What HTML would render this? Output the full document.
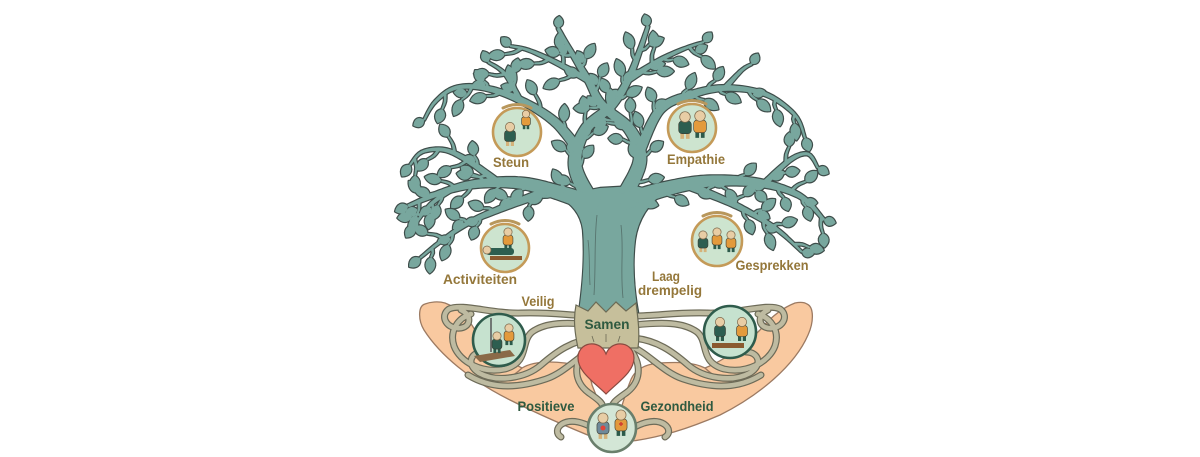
<!DOCTYPE html>
<html><head><meta charset="utf-8">
<style>html,body{margin:0;padding:0;background:#fff;}svg{display:block}</style>
</head><body>
<svg id="s" width="1200" height="457" viewBox="0 0 1200 457" xmlns="http://www.w3.org/2000/svg">
<rect width="1200" height="457" fill="#fff"/>
<!-- hands -->
<g fill="#f9c9a0" stroke="#9c7a62" stroke-width="1.3" stroke-linejoin="round">
<path d="M425,304 C418,306 418,320 424,330 C440,355 470,380 510,400 C540,415 570,428 600,440 L606,420 C600,405 596,395 592,385 C590,372 580,365 565,363 C548,361 532,362 522,368 C505,360 488,345 475,330 C468,318 458,308 445,303 C438,301 430,302 425,304 Z"/>
<path d="M807,304 C814,307 814,322 808,335 C795,365 760,395 720,415 C690,428 660,438 625,442 L618,420 C622,405 626,392 630,382 C634,370 645,364 660,363 C678,362 693,362 705,368 C725,360 745,345 760,330 C770,318 782,308 795,303 C800,302 804,302 807,304 Z"/>
<path fill="none" d="M522,368 C515,375 505,380 495,382"/>
<path fill="none" d="M705,368 C712,375 722,380 732,382"/>
</g>
<!-- roots -->
<g id="ro" fill="none" stroke="#6d6b58" stroke-width="7" stroke-linecap="round"></g>
<g id="rf" fill="none" stroke="#bebba1" stroke-width="4.6" stroke-linecap="round"></g>
<!-- tree -->
<g id="to" fill="#3e4d4a" stroke="#3e4d4a" stroke-width="2.4" stroke-linejoin="round"></g>
<g id="tf" fill="#78a79e"></g>
<g stroke="#4a5f5b" stroke-width="0.9" fill="none" opacity="0.7">
<path d="M597,215 C594,240 596,265 594,295"/>
<path d="M621,225 C624,250 620,270 623,298"/>
<path d="M588,240 C590,255 589,270 590,285"/>
</g>
<!-- root base -->
<path d="M576,305 L588,311 L596,302 L606,312 L616,302 L626,311 L636,303 C638,318 640,334 638,348 L578,348 C575,334 573,320 576,305 Z" fill="#c6bf9b" stroke="#6b6a55" stroke-width="1.2"/>
<g stroke="#6b6a55" stroke-width="0.8" fill="none"><path d="M592,336 l2,6 M606,334 l0,8 M620,336 l-2,6"/></g>
<!-- heart -->
<path d="M606,394 C594,382 578,372 578,358 C578,348 586,343 594,344 C600,345 604,349 606,354 C608,349 612,345 618,344 C627,343 634,349 634,358 C634,372 618,382 606,394 Z" fill="#ef6f64" stroke="#8a4a40" stroke-width="1.2"/>
<!-- medallions -->
<g fill="#cde4cf" stroke="#c49a58" stroke-width="2.6">
<circle cx="517" cy="132" r="24"/>
<circle cx="692" cy="128" r="24"/>
<circle cx="505" cy="248" r="24"/>
<circle cx="717" cy="241" r="25"/>
</g>
<g fill="none" stroke="#b8975c" stroke-width="3" stroke-linecap="round">
<path d="M503,108 Q517,101 531,108"/>
<path d="M678,104 Q692,97 706,104"/>
<path d="M491,224 Q505,217 519,224"/>
<path d="M703,216 Q717,209 731,216"/>
</g>
<g fill="#c6e2cf" stroke="#2f5c4c" stroke-width="2.6">
<circle cx="499" cy="340" r="26"/>
<circle cx="730" cy="332" r="26"/>
</g>
<circle cx="612" cy="428" r="24" fill="#d3e6d6" stroke="#6a7f6c" stroke-width="2.6"/>
<g id="figs"></g>
<!-- labels -->
<g font-family="'Liberation Sans', Arial, sans-serif" font-weight="bold" font-size="14" text-anchor="middle" fill="#94773a">
<text x="511" y="167" textLength="36" lengthAdjust="spacingAndGlyphs">Steun</text>
<text x="696" y="164" textLength="58" lengthAdjust="spacingAndGlyphs">Empathie</text>
<text x="480" y="284" textLength="74" lengthAdjust="spacingAndGlyphs">Activiteiten</text>
<text x="772" y="270" textLength="73" lengthAdjust="spacingAndGlyphs">Gesprekken</text>
<text x="666" y="281" textLength="28" lengthAdjust="spacingAndGlyphs">Laag</text>
<text x="670" y="295" textLength="64" lengthAdjust="spacingAndGlyphs">drempelig</text>
<text x="538" y="306" textLength="33" lengthAdjust="spacingAndGlyphs">Veilig</text>
</g>
<g font-family="'Liberation Sans', Arial, sans-serif" font-weight="bold" font-size="14" text-anchor="middle" fill="#2f5a40">
<text x="607" y="329" textLength="45" lengthAdjust="spacingAndGlyphs">Samen</text>
<text x="546" y="411" textLength="57" lengthAdjust="spacingAndGlyphs">Positieve</text>
<text x="677" y="411" textLength="73" lengthAdjust="spacingAndGlyphs">Gezondheid</text>
</g>
</svg>
<script>
(function(){
const NS="http://www.w3.org/2000/svg";
function el(tag,a,p){const e=document.createElementNS(NS,tag);for(const k in a)e.setAttribute(k,a[k]);p.appendChild(e);return e;}
let seed=98765;
function r(){seed|=0;seed=seed+0x6D2B79F5|0;let t=Math.imul(seed^seed>>>15,1|seed);t=t+Math.imul(t^t>>>7,61|t)^t;return((t^t>>>14)>>>0)/4294967296;}

/* roots */
const ro=document.getElementById('ro'),rf=document.getElementById('rf');
const leftRoots=[
'M596,316 C572,316 552,312 522,313 C492,314 462,303 449,309 C439,316 447,330 461,328 C472,326 471,314 461,310',
'M596,325 C566,322 546,322 532,332 C520,342 530,362 505,369 C482,374 460,362 454,346 C449,331 458,318 471,314',
'M596,338 C572,340 556,352 541,365 C526,378 497,383 479,373 C466,365 470,352 483,352',
'M598,346 C580,354 566,372 546,379 C522,387 494,391 468,375'];
const centerRoots=[
'M590,344 C574,358 571,380 589,393 C599,400 605,404 603,412',
'M625,344 C641,358 644,380 626,393 C616,400 610,404 612,412',
'M600,432 C586,423 572,418 562,424 C556,428 556,434 561,437',
'M626,432 C640,423 654,418 664,424 C670,428 670,434 665,437'];
[ro,rf].forEach(g=>{
  const gl=el('g',{},g), gr=el('g',{transform:'translate(1229,0) scale(-1,1)'},g);
  leftRoots.forEach(d=>{el('path',{d},gl);el('path',{d},gr);});
  centerRoots.forEach(d=>el('path',{d},g));
});

/* tree */
const gO=document.getElementById('to'),gF=document.getElementById('tf');
function add(d){el('path',{d},gO);el('path',{d},gF);}
function f(p){return p[0].toFixed(1)+','+p[1].toFixed(1);}
function cr(pts,step){
  const out=[];
  for(let i=0;i<pts.length-1;i++){
    const p0=pts[i-1]||pts[i],p1=pts[i],p2=pts[i+1],p3=pts[i+2]||pts[i+1];
    const L=Math.hypot(p2[0]-p1[0],p2[1]-p1[1]);const n=Math.max(2,Math.ceil(L/step));
    for(let k=0;k<n;k++){const t=k/n,t2=t*t,t3=t2*t;
      out.push([0.5*((2*p1[0])+(-p0[0]+p2[0])*t+(2*p0[0]-5*p1[0]+4*p2[0]-p3[0])*t2+(-p0[0]+3*p1[0]-3*p2[0]+p3[0])*t3),
                0.5*((2*p1[1])+(-p0[1]+p2[1])*t+(2*p0[1]-5*p1[1]+4*p2[1]-p3[1])*t2+(-p0[1]+3*p1[1]-3*p2[1]+p3[1])*t3)]);}
  }
  out.push(pts[pts.length-1]);return out;
}
function limb(pts,w0,w1){
  const s=cr(pts,3);const cum=[0];
  for(let i=1;i<s.length;i++)cum.push(cum[i-1]+Math.hypot(s[i][0]-s[i-1][0],s[i][1]-s[i-1][1]));
  const T=cum[cum.length-1]||1;const L=[],R=[];
  for(let i=0;i<s.length;i++){
    const a=s[Math.max(0,i-1)],b=s[Math.min(s.length-1,i+1)];
    const dx=b[0]-a[0],dy=b[1]-a[1],m=Math.hypot(dx,dy)||1;const nx=-dy/m,ny=dx/m;
    const w=(w0+(w1-w0)*cum[i]/T)/2;
    L.push([s[i][0]+nx*w,s[i][1]+ny*w]);R.push([s[i][0]-nx*w,s[i][1]-ny*w]);
  }
  add('M'+L.map(f).join('L')+'L'+R.reverse().map(f).join('L')+'Z');
  return {s,cum,T};
}
function leaf(x,y,ang,len,wid){
  const c=Math.cos(ang),sn=Math.sin(ang);
  function P(u,v){return (x+u*c-v*sn).toFixed(1)+','+(y+u*sn+v*c).toFixed(1);}
  add('M'+P(0,0)+'C'+P(len*0.25,-wid*0.62)+' '+P(len*0.7,-wid*0.55)+' '+P(len,0)+'C'+P(len*0.7,wid*0.55)+' '+P(len*0.25,wid*0.62)+' '+P(0,0)+'Z');
}
const meds=[[517,132,24],[692,128,24],[505,248,24],[717,241,25]];
const boxes=[[488,152,535,171],[662,149,730,168],[438,270,522,288],[730,256,814,274],[634,266,706,300]];
function ok(x,y){
  if((x-612)*(x-612)+(y-232)*(y-232)>218*218)return false;
  if(y>274)return false;
  for(const m of meds){if((x-m[0])*(x-m[0])+(y-m[1])*(y-m[1])<(m[2]+5)*(m[2]+5))return false;}
  for(const b of boxes){if(x>b[0]-3&&x<b[2]+3&&y>b[1]-3&&y<b[3]+3)return false;}
  if(x>572&&x<642&&y>205)return false;
  return true;
}
/* trunk */
add('M579,312 C583,284 585,254 583,230 C581,214 572,204 558,196 L600,188 L635,186 L664,193 C649,203 638,219 635,240 C632,264 634,290 638,312 Z');
const limbs=[
 [[[590,200],[575,165],[585,130],[612,105],[628,80],[640,50],[648,26]],15,3],
 [[[625,195],[640,160],[630,130],[602,105],[588,80],[570,50],[558,28]],15,3],
 [[[598,206],[560,193],[520,183],[475,184],[440,193],[408,206]],17,3],
 [[[545,192],[510,205],[470,222],[440,242],[420,258]],8,2],
 [[[455,187],[430,205],[414,226]],5,2],
 [[[500,184],[470,162],[445,150],[422,152],[410,165]],7,2],
 [[[580,152],[555,122],[520,100],[485,88],[455,88],[435,102],[424,120]],10,2],
 [[[520,100],[505,74],[488,62]],5,2],
 [[[588,80],[555,62],[528,50],[510,46]],6,2],
 [[[620,203],[665,189],[710,181],[760,183],[800,196],[824,220]],17,3],
 [[[690,186],[735,205],[775,228],[802,252]],8,2],
 [[[640,150],[660,110],[690,95],[725,88],[765,94],[795,115],[805,138]],10,2],
 [[[725,88],[742,70],[752,64]],5,2],
 [[[628,80],[660,60],[686,48],[704,42]],6,2],
 [[[765,183],[790,160],[808,154],[818,168]],6,2]
];
limbs.forEach(Lb=>{
  const o=limb(Lb[0],Lb[1],Lb[2]);
  let side=r()<0.5?1:-1;
  for(let d=14;d<o.T-6;d+=14*(0.8+0.4*r())){
    let i=o.cum.findIndex(c=>c>=d);if(i<1)continue;
    const p=o.s[i],q=o.s[i-1];const a=Math.atan2(p[1]-q[1],p[0]-q[0]);
    side=-side;
    const ta=a+side*(0.55+0.5*r());const tl=8+10*r();
    const e=[p[0]+Math.cos(ta)*tl,p[1]+Math.sin(ta)*tl];
    const la=ta+(r()-0.5)*0.5,ll=14+4*r();
    const tip=[e[0]+Math.cos(la)*ll,e[1]+Math.sin(la)*ll];
    const mid=[(e[0]+tip[0])/2,(e[1]+tip[1])/2];
    if(!ok(e[0],e[1])||!ok(tip[0],tip[1])||!ok(mid[0],mid[1]))continue;
    const m=[(p[0]+e[0])/2+Math.cos(ta+1.57)*1.5*side,(p[1]+e[1])/2+Math.sin(ta+1.57)*1.5*side];
    limb([p,m,e],3,1.7);
    leaf(e[0],e[1],la,ll,11);
    if(r()<0.3){
      const ba=ta-side*(0.9+0.3*r());const bp=[(p[0]+e[0])/2,(p[1]+e[1])/2];
      const bt=[bp[0]+Math.cos(ba)*14,bp[1]+Math.sin(ba)*14];
      if(ok(bt[0],bt[1]))leaf(bp[0],bp[1],ba,13,10);
    }
  }
  const n=o.s.length,pe=o.s[n-1],pq=o.s[Math.max(0,n-3)];
  const ea=Math.atan2(pe[1]-pq[1],pe[0]-pq[0]);
  const et=[pe[0]+Math.cos(ea)*14,pe[1]+Math.sin(ea)*14];
  if(ok(et[0],et[1]))leaf(pe[0],pe[1],ea,14,11);
  else leaf(pe[0],pe[1],ea+(pe[0]<612?0.6:-0.6),12,10);
});

/* figures */
const fg=document.getElementById('figs');
function fig(x,y,col,s,leg){
  s=s||1;leg=leg||'#2c5a4a';
  el('rect',{x:x-4*s,y:y+13*s,width:3.2*s,height:6*s,fill:leg},fg);
  el('rect',{x:x+0.8*s,y:y+13*s,width:3.2*s,height:6*s,fill:leg},fg);
  el('rect',{x:x-5.5*s,y:y+3.5*s,width:11*s,height:11*s,rx:3*s,fill:col,stroke:'#3a3a30','stroke-width':0.6},fg);
  el('circle',{cx:x,cy:y,r:4.6*s,fill:'#e8cda5',stroke:'#7a6548','stroke-width':0.7},fg);
}
const G='#2d5e50',O='#e39a3c',B='#d4b27a';
fig(510,127,G,1,B);fig(526,114,O,0.8);
fig(685,117,G,1.15,B);fig(700,116,O,1.15);
el('rect',{x:490,y:256,width:32,height:4,fill:'#8a5a30'},fg);
el('rect',{x:486,y:248,width:28,height:7,rx:3,fill:G},fg);
el('circle',{cx:487,cy:250,r:4,fill:'#e8cda5',stroke:'#7a6548','stroke-width':0.7},fg);
fig(508,232,O,0.9);
fig(703,235,G,0.9,B);fig(717,232,O,0.9);fig(731,235,O,0.9);
el('line',{x1:491,y1:318,x2:491,y2:352,stroke:'#555','stroke-width':1.5},fg);
el('path',{d:'M474,356 L510,350 L515,356 L480,362 Z',fill:'#8a6a48'},fg);
fig(497,336,G,0.9);fig(509,328,O,0.9);
el('rect',{x:712,y:343,width:32,height:5,fill:'#8a5a30'},fg);
fig(720,322,G,1);fig(742,322,O,1);
fig(603,418,'#6e8a9a',1.1,B);fig(621,415,O,1.1);
el('circle',{cx:603,cy:428,r:2.5,fill:'#e0443a'},fg);
el('path',{d:'M619,424 h4 M621,422 v4',stroke:'#d03a30','stroke-width':1.4},fg);
})();
</script>
</body></html>
